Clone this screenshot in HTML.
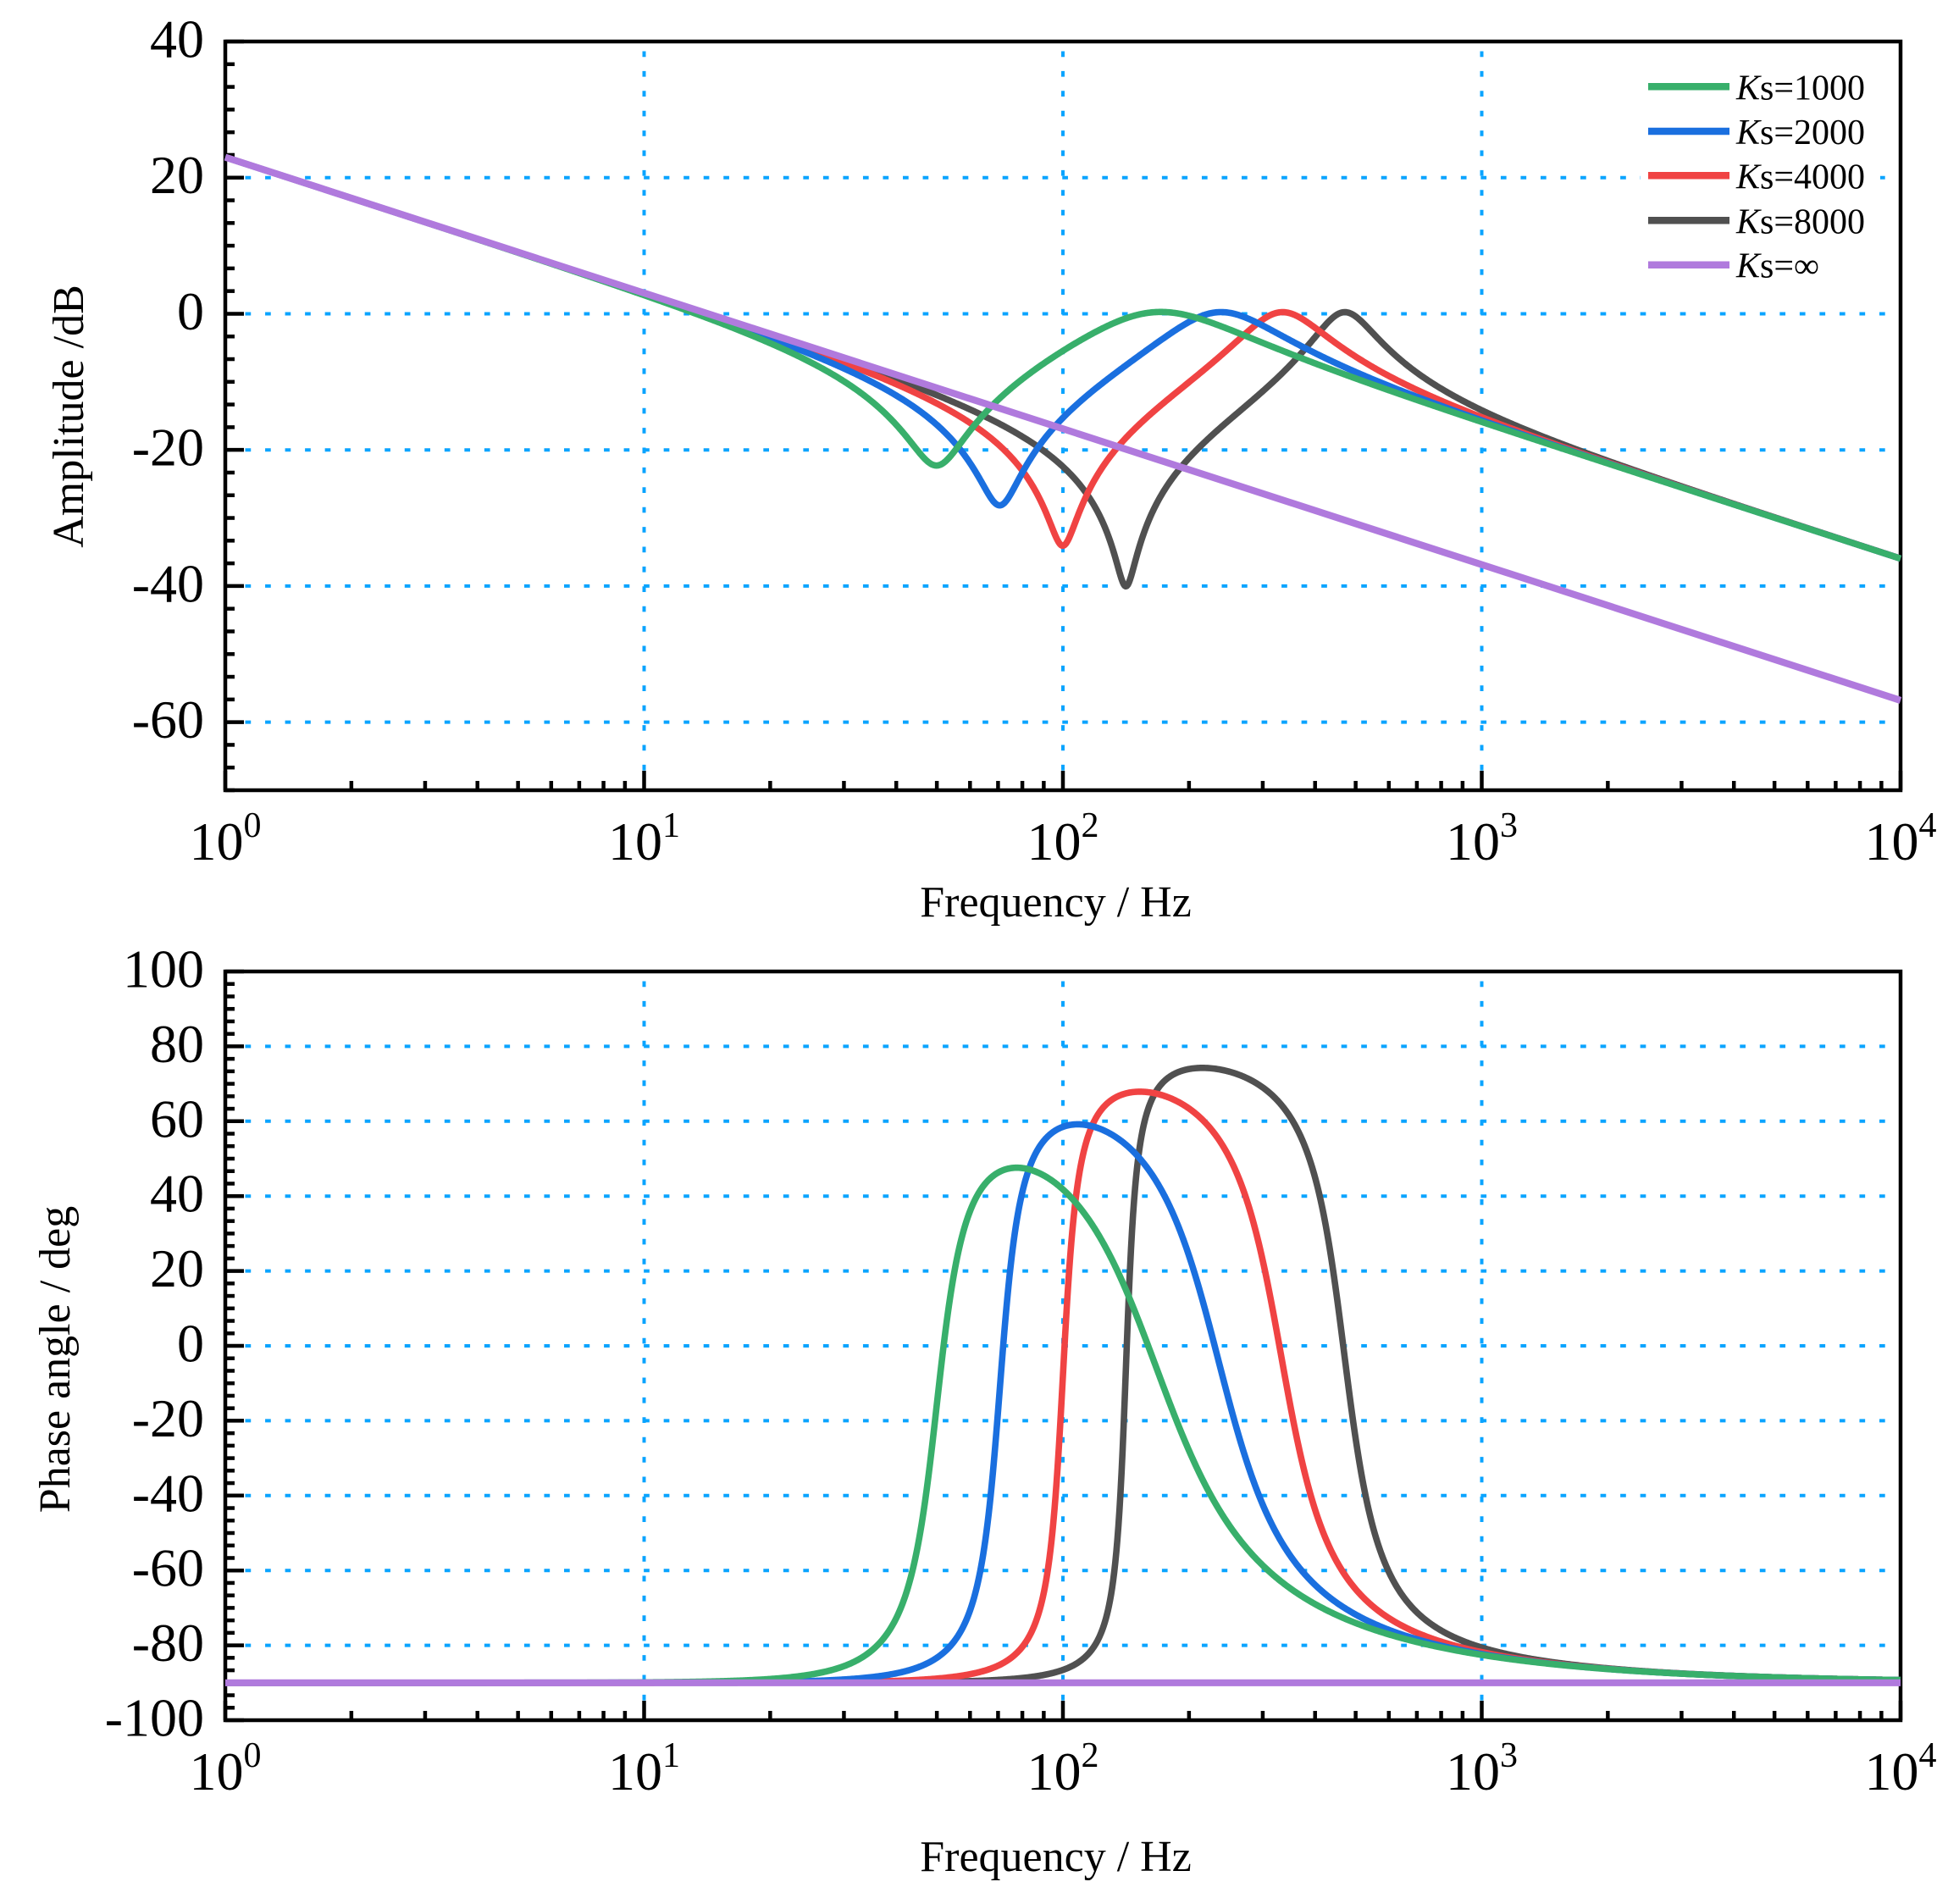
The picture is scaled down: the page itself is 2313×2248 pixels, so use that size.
<!DOCTYPE html>
<html><head><meta charset="utf-8">
<style>
html,body{margin:0;padding:0;background:#fff;}
svg{display:block;}
text{font-family:"Liberation Serif","DejaVu Serif",serif;fill:#000;}
</style></head>
<body>
<svg id="s" width="2313" height="2248" viewBox="0 0 2313 2248" xmlns="http://www.w3.org/2000/svg">
<rect width="2313" height="2248" fill="#fff"/>
<g stroke="#0AA4FF" stroke-width="4" fill="none">
 <g stroke-dasharray="6.7 16.83">
  <line x1="266" x2="2244" y1="209.7" y2="209.7"/>
  <line x1="266" x2="2244" y1="370.5" y2="370.5"/>
  <line x1="266" x2="2244" y1="531.2" y2="531.2"/>
  <line x1="266" x2="2244" y1="691.9" y2="691.9"/>
  <line x1="266" x2="2244" y1="852.6" y2="852.6"/>
  <line x1="266" x2="2244" y1="1235.4" y2="1235.4"/>
  <line x1="266" x2="2244" y1="1323.8" y2="1323.8"/>
  <line x1="266" x2="2244" y1="1412.2" y2="1412.2"/>
  <line x1="266" x2="2244" y1="1500.6" y2="1500.6"/>
  <line x1="266" x2="2244" y1="1589" y2="1589"/>
  <line x1="266" x2="2244" y1="1677.4" y2="1677.4"/>
  <line x1="266" x2="2244" y1="1765.8" y2="1765.8"/>
  <line x1="266" x2="2244" y1="1854.2" y2="1854.2"/>
  <line x1="266" x2="2244" y1="1942.6" y2="1942.6"/>
 </g>
 <g stroke-dasharray="6.7 16.7">
  <line x1="760.5" x2="760.5" y1="933" y2="49"/>
  <line x1="1255" x2="1255" y1="933" y2="49"/>
  <line x1="1749.5" x2="1749.5" y1="933" y2="49"/>
  <line x1="760.5" x2="760.5" y1="2031" y2="1147"/>
  <line x1="1255" x2="1255" y1="2031" y2="1147"/>
  <line x1="1749.5" x2="1749.5" y1="2031" y2="1147"/>
 </g>
</g>
<!-- legend background -->
<rect x="1937" y="72" width="283" height="268" fill="#fff"/>
<!-- frames -->
<g fill="none" stroke="#000" stroke-width="4.5">
 <rect x="266" y="49" width="1978" height="884"/>
 <rect x="266" y="1147" width="1978" height="884"/>
</g>
<g id="ticks" stroke="#000" stroke-width="4.5"></g>
<g id="curves" fill="none" stroke-linejoin="round" stroke-linecap="butt"></g>

<!-- legend -->
<g stroke-width="8.5">
 <line x1="1946" x2="2042" y1="102.3" y2="102.3" stroke="#38AF6B"/>
 <line x1="1946" x2="2042" y1="155" y2="155" stroke="#1A6FDF"/>
 <line x1="1946" x2="2042" y1="207.3" y2="207.3" stroke="#F04343"/>
 <line x1="1946" x2="2042" y1="260.3" y2="260.3" stroke="#505050"/>
 <line x1="1946" x2="2042" y1="312.7" y2="312.7" stroke="#B07ADD"/>
</g>
<g font-size="42">
 <text x="2050" y="117.3"><tspan font-style="italic">K</tspan>s=1000</text>
 <text x="2050" y="170"><tspan font-style="italic">K</tspan>s=2000</text>
 <text x="2050" y="222.3"><tspan font-style="italic">K</tspan>s=4000</text>
 <text x="2050" y="275.3"><tspan font-style="italic">K</tspan>s=8000</text>
 <text x="2050" y="327.7"><tspan font-style="italic">K</tspan>s=∞</text>
</g>

<!-- y tick labels -->
<g font-size="64" text-anchor="end">
 <text x="241" y="67.5">40</text>
 <text x="241" y="228.2">20</text>
 <text x="241" y="389">0</text>
 <text x="241" y="549.7">-20</text>
 <text x="241" y="710.4">-40</text>
 <text x="241" y="871.1">-60</text>
 <text x="241" y="1165.5">100</text>
 <text x="241" y="1253.9">80</text>
 <text x="241" y="1342.3">60</text>
 <text x="241" y="1430.7">40</text>
 <text x="241" y="1519.1">20</text>
 <text x="241" y="1607.5">0</text>
 <text x="241" y="1695.9">-20</text>
 <text x="241" y="1784.3">-40</text>
 <text x="241" y="1872.7">-60</text>
 <text x="241" y="1961.1">-80</text>
 <text x="241" y="2049.5">-100</text>
</g>
<!-- x tick labels -->
<g font-size="64" text-anchor="middle">
 <text x="266" y="1015">10<tspan dy="-27" font-size="42">0</tspan></text>
 <text x="760.5" y="1015">10<tspan dy="-27" font-size="42">1</tspan></text>
 <text x="1255" y="1015">10<tspan dy="-27" font-size="42">2</tspan></text>
 <text x="1749.5" y="1015">10<tspan dy="-27" font-size="42">3</tspan></text>
 <text x="2244" y="1015">10<tspan dy="-27" font-size="42">4</tspan></text>
 <text x="266" y="2113">10<tspan dy="-27" font-size="42">0</tspan></text>
 <text x="760.5" y="2113">10<tspan dy="-27" font-size="42">1</tspan></text>
 <text x="1255" y="2113">10<tspan dy="-27" font-size="42">2</tspan></text>
 <text x="1749.5" y="2113">10<tspan dy="-27" font-size="42">3</tspan></text>
 <text x="2244" y="2113">10<tspan dy="-27" font-size="42">4</tspan></text>
</g>
<!-- axis titles -->
<g font-size="52" text-anchor="middle">
 <text x="1246.5" y="1082">Frequency / Hz</text>
 <text x="1246.5" y="2209">Frequency / Hz</text>
 <text transform="translate(98,491.5) rotate(-90)">Amplitude /dB</text>
 <text transform="translate(82,1605) rotate(-90)">Phase angle / deg</text>
</g>
</svg>
<script>
(function(){
var NS="http://www.w3.org/2000/svg";
var L=266,R=2244,T1=49,B1=933,T2=1147,B2=2031;
var DEC=(R-L)/4;
function X(f){return L+DEC*Math.log10(f);}
function Y1(d){return T1+(40-d)*(B1-T1)/110;}
function Y2(p){return T2+(100-p)*(B2-T2)/200;}
function el(tag,a,par){var e=document.createElementNS(NS,tag);for(var k in a)e.setAttribute(k,a[k]);par.appendChild(e);return e;}
var tk=document.getElementById("ticks");
for(var k=0;k<=33;k++){var y=Y1(40-k*20/6);var len=(k%6==0)?22:11;el("line",{x1:L,x2:L+len,y1:y,y2:y},tk);}
for(var k=0;k<=60;k++){var y=Y2(100-k*20/6);var len=(k%6==0)?22:11;el("line",{x1:L,x2:L+len,y1:y,y2:y},tk);}
[B1,B2].forEach(function(B){
 for(var d=0;d<=4;d++){var x=L+DEC*d;el("line",{x1:x,x2:x,y1:B,y2:B-23},tk);
  if(d<4){for(var m=2;m<=9;m++){var xm=L+DEC*(d+Math.log10(m));el("line",{x1:xm,x2:xm,y1:B,y2:B-11},tk);}}}
});
function base(f){return 23-19.95*Math.log10(f);}
function resp(f,K){
 var s=Math.sqrt(K/1000);var fa=50*s,r=Math.sqrt(11),fr=fa*r,za=0.127/s,zr=za*r;
 var u=f/fa,ur=f/fr;
 var nr=1-u*u,ni=2*za*u,dr=1-ur*ur,di=2*zr*ur;
 var mag=Math.hypot(nr,ni)/Math.hypot(dr,di);
 var db=base(f)+20*Math.log10(mag);
 var ph=-90+(Math.atan2(ni,nr)-Math.atan2(di,dr))*180/Math.PI;
 return [db,ph];
}
var cv=document.getElementById("curves");
var series=[[8000,"#505050"],[4000,"#F04343"],[2000,"#1A6FDF"],[1000,"#38AF6B"]];
var N=1600;
series.forEach(function(sr){
 var p1="",p2="";
 for(var i=0;i<=N;i++){var lf=4*i/N;var f=Math.pow(10,lf);var r=resp(f,sr[0]);
  var x=X(f).toFixed(2);
  p1+=(i?"L":"M")+x+","+Y1(r[0]).toFixed(2);
  p2+=(i?"L":"M")+x+","+Y2(r[1]).toFixed(2);}
 el("path",{d:p1,stroke:sr[1],"stroke-width":7.6},cv);
 el("path",{d:p2,stroke:sr[1],"stroke-width":7.6},cv);
});
el("path",{d:"M"+L+","+Y1(base(1)).toFixed(2)+"L"+R+","+Y1(base(10000)).toFixed(2),stroke:"#B07ADD","stroke-width":8.2},cv);
el("path",{d:"M"+L+","+Y2(-90).toFixed(2)+"L"+R+","+Y2(-90).toFixed(2),stroke:"#B07ADD","stroke-width":8.2},cv);
})();
</script>
</body></html>
